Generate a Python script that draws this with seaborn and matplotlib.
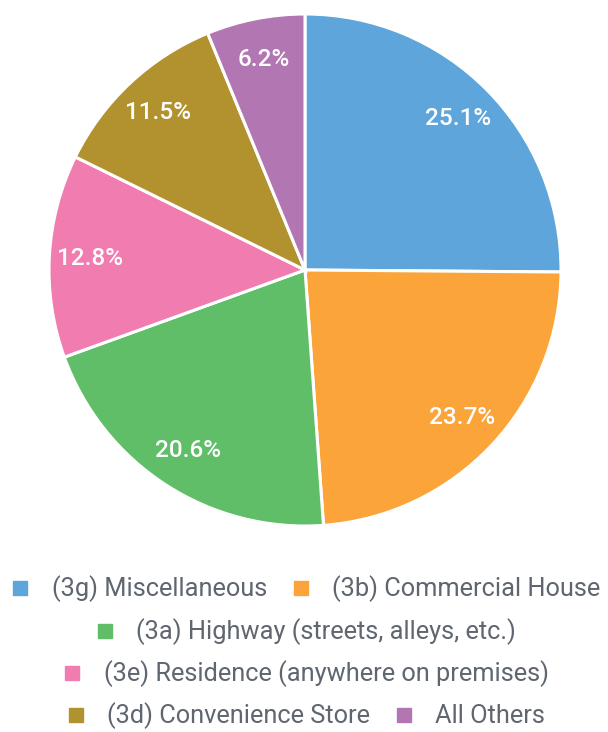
import matplotlib
matplotlib.use("Agg")
import matplotlib.pyplot as plt
from matplotlib.lines import Line2D
import seaborn as sns

# Share of incidents by location type
categories = [
    "(3g) Miscellaneous",
    "(3b) Commercial House",
    "(3a) Highway (streets, alleys, etc.)",
    "(3e) Residence (anywhere on premises)",
    "(3d) Convenience Store",
    "All Others",
]
shares = [25.1, 23.7, 20.6, 12.8, 11.5, 6.2]
colors = ["#5DA5DA", "#FAA43A", "#60BD68", "#F17CB0", "#B2912F", "#B276B2"]

# Legend rows (centered, wrapped like a flex layout)
legend_rows = [[0, 1], [2], [3], [4, 5]]

sns.set_theme(style="white")
plt.rcParams["font.family"] = ["Roboto", "DejaVu Sans"]

W, H = 608, 732
fig = plt.figure(figsize=(W / 100, H / 100), dpi=100)
fig.patch.set_facecolor("white")

cx, cy, r = 305, 270, 256
ax = fig.add_axes([(cx - r) / W, 1 - (cy + r) / H, 2 * r / W, 2 * r / H])

wedges, texts, autotexts = ax.pie(
    shares,
    colors=colors,
    startangle=90,
    counterclock=False,
    autopct=lambda p: "",
    pctdistance=0.84,
    wedgeprops=dict(edgecolor="white", linewidth=2.2),
)
for at, v in zip(autotexts, shares):
    at.set_text(f"{v}%")
    at.set_color("white")
    at.set_fontsize(17.5)
    at.set_fontweight("medium")
ax.set_xlim(-1, 1)
ax.set_ylim(-1, 1)
ax.set_aspect("equal")
ax.axis("off")

row_y = [589, 632, 674, 716]
for row, y in zip(legend_rows, row_y):
    handles = [
        Line2D([], [], linestyle="none", marker="s", markersize=10.5,
               markerfacecolor=colors[i], markeredgecolor=colors[i])
        for i in row
    ]
    leg = fig.legend(
        handles, [categories[i] for i in row],
        loc="center", bbox_to_anchor=(0.5, 1 - y / H),
        ncol=len(row), frameon=False, fontsize=18.3,
        handlelength=1.0, handletextpad=0.74, columnspacing=0.82,
        borderpad=0, borderaxespad=0,
    )
    for t in leg.get_texts():
        t.set_color("#5f6670")

fig.savefig("out.png", dpi=100, facecolor="white")
